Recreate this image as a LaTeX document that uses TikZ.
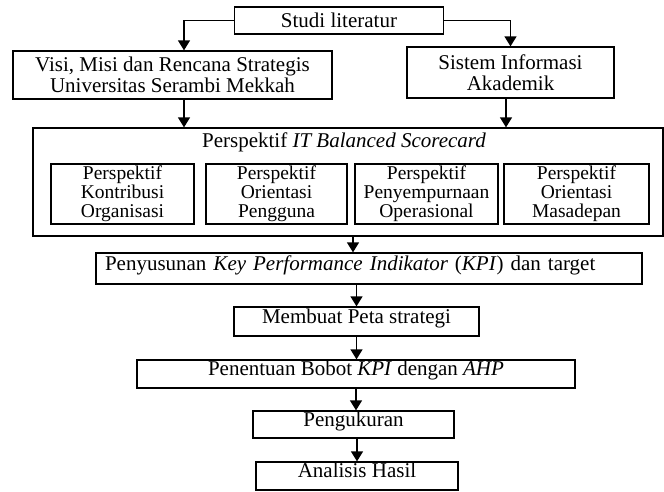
\documentclass[tikz,border=0pt]{standalone}
\usepackage{fontspec}
\setmainfont{Liberation Serif}
\usetikzlibrary{arrows.meta}
\def\bigfont{\fontsize{21}{21}\selectfont}
\def\smallfont{\fontsize{19.5}{19}\selectfont}
\tikzset{
  box/.style={draw, line width=1.3pt, inner sep=0pt, align=center, font=\bigfont},
  subbox/.style={box, font=\smallfont, minimum height=60pt},
  lowbox/.style={box, text height=12pt, text depth=9pt},
  arr/.style={line width=1.3pt, -{Triangle[width=12pt,length=10pt]}}
}

\begin{document}
\begin{tikzpicture}[x=1pt, y=-1pt]
  \useasboundingbox (0,0) rectangle (664,491);
  % top row
  \node[box, minimum width=209pt, minimum height=27pt] (studi) at (339,20.5) {Studi literatur};
  \node[box, minimum width=319pt, minimum height=48pt] (visi) at (172.5,75)
    {Visi, Misi dan Rencana Strategis\\Universitas Serambi Mekkah};
  \node[box, minimum width=207pt, minimum height=51pt] (sistem) at (510.5,72.5)
    {Sistem Informasi\\Akademik};
  % scorecard frame and its four perspectives
  \node[box, minimum width=630pt, minimum height=108pt] (bsc) at (348,182) {};
  \node[font=\bigfont, inner sep=0pt] (bsctitle) at (344,142) {Perspektif \textit{IT Balanced Scorecard}};
  \node[subbox, minimum width=143pt] (kontribusi) at (122.5,194) {Perspektif\\Kontribusi\\Organisasi};
  \node[subbox, minimum width=141pt] (pengguna) at (276.5,194) {Perspektif\\Orientasi\\Pengguna};
  \node[subbox, minimum width=143pt] (operasional) at (426.5,194) {Perspektif\\Penyempurnaan\\Operasional};
  \node[subbox, minimum width=145pt] (masadepan) at (576.5,194) {Perspektif\\Orientasi\\Masadepan};
  % steps below
  \node[lowbox, minimum height=31pt, text width=528pt, inner xsep=9pt, align=left] (kpi) at (369,268.5)
    {Penyusunan \textit{Key Performance Indikator} (\textit{KPI}) dan target};
  \node[lowbox, minimum width=245pt, minimum height=29pt] (peta) at (356.5,321.5) {Membuat Peta strategi};
  \node[lowbox, minimum width=438pt, minimum height=28pt] (bobot) at (356,374)
    {Penentuan Bobot \textit{KPI} dengan \textit{AHP}};
  \node[lowbox, minimum width=201pt, minimum height=27pt] (ukur) at (353.5,424.5) {Pengukuran};
  \node[lowbox, minimum width=202pt, minimum height=28pt] (hasil) at (357,476) {Analisis Hasil};
  % connectors
  \draw[arr] (studi.west) -| ([xshift=11.5pt]visi.north);
  \draw[arr] (studi.east) -| (sistem.north);
  \draw[arr] ([xshift=11.5pt]visi.south) -- ([xshift=11.5pt]visi.south |- bsc.north);
  \draw[arr] ([xshift=-4.5pt]sistem.south) -- ([xshift=-4.5pt]sistem.south |- bsc.north);
  \draw[arr] ([xshift=5pt]bsc.south) -- ([xshift=5pt]bsc.south |- kpi.north);
  \draw[arr] (kpi.south -| peta.north) -- (peta.north);
  \draw[arr] (peta.south) -- (peta.south |- bobot.north);
  \draw[arr] (bobot.south) -- (bobot.south |- ukur.north);
  \draw[arr] (ukur.south -| hasil.north) -- (hasil.north);
\end{tikzpicture}
\end{document}
